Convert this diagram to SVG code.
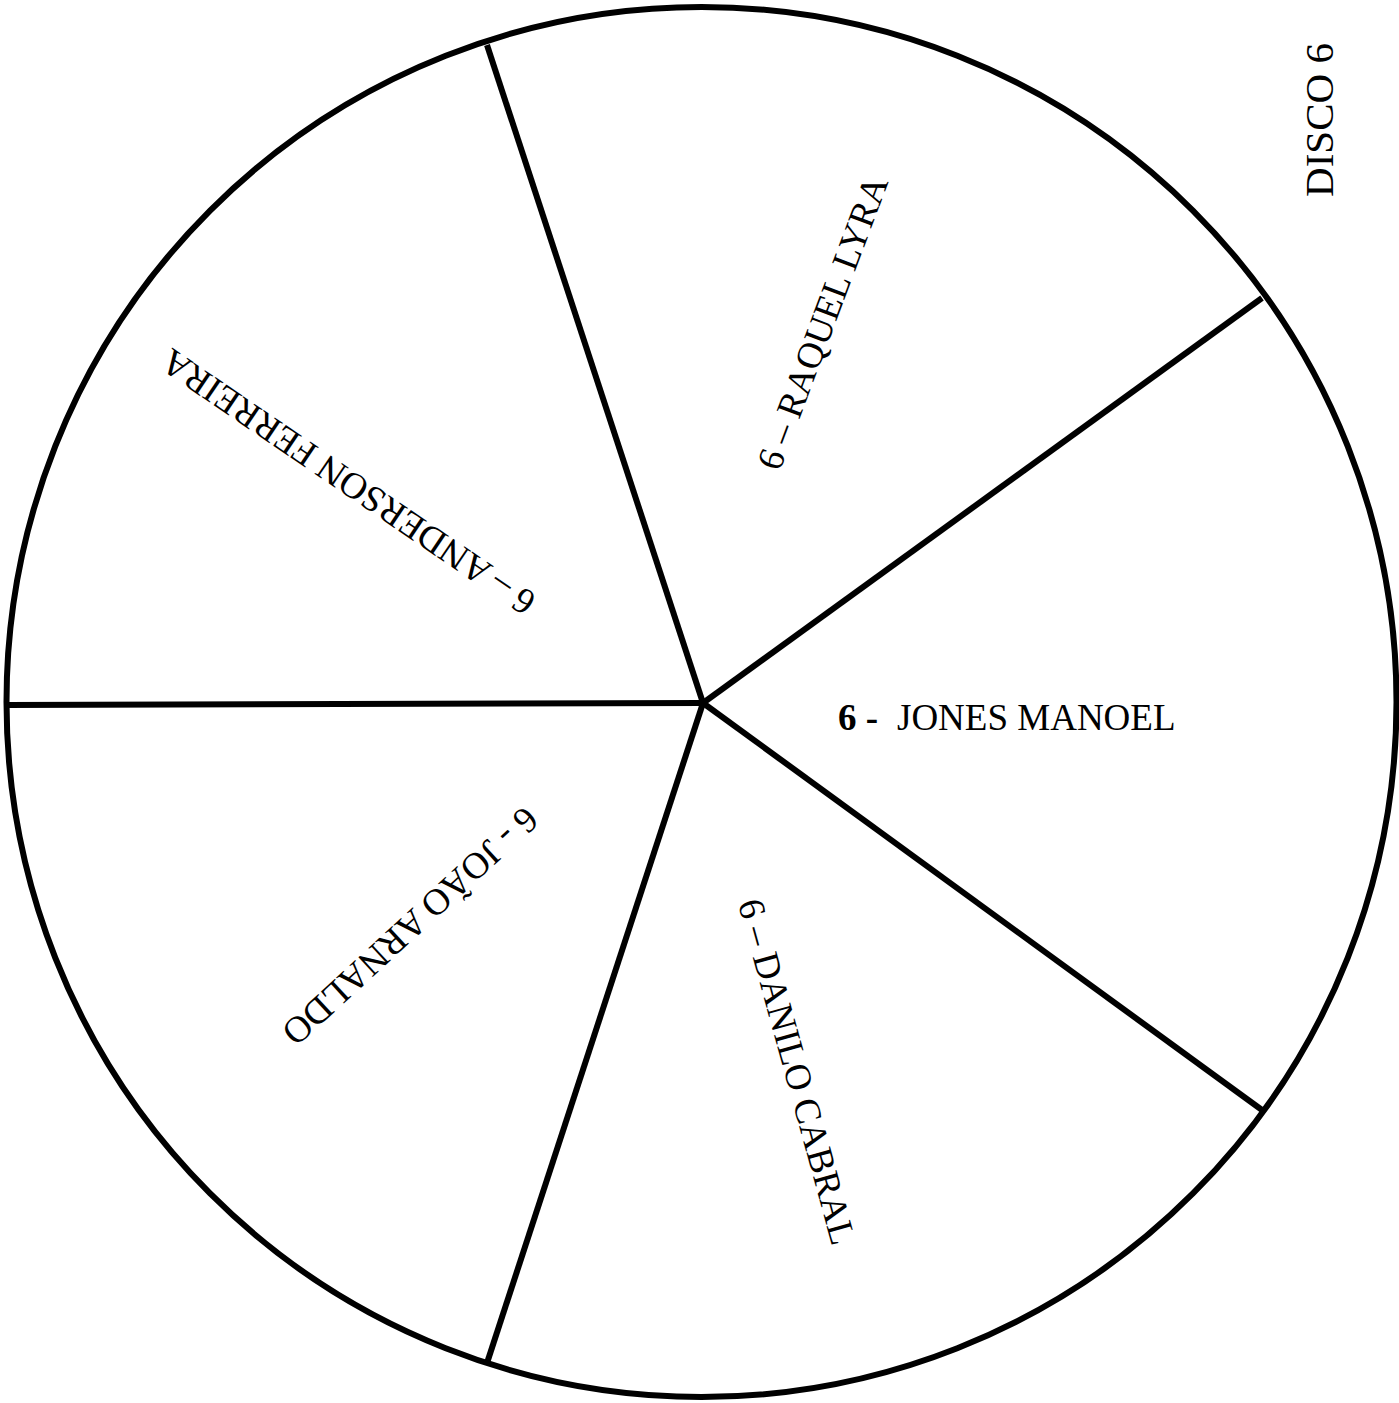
<svg xmlns="http://www.w3.org/2000/svg" width="1399" height="1403" viewBox="0 0 1399 1403">
<style>
.ln{stroke:#000;stroke-width:6;fill:none;stroke-linecap:butt}
.t{font-family:"Liberation Serif","Times New Roman",serif;font-size:37px;fill:#000}
</style>
<rect width="1399" height="1403" fill="#fff"/>
<g id="disc">
<circle class="ln" cx="701.5" cy="702" r="695"/>
</g>
<g id="connectors">
<line class="ln" x1="703" y1="703" x2="487" y2="45"/>
<line class="ln" x1="703" y1="703" x2="1262" y2="298"/>
<line class="ln" x1="703" y1="703" x2="1262" y2="1110"/>
<line class="ln" x1="703" y1="703" x2="487" y2="1363"/>
<line class="ln" x1="703" y1="703" x2="7" y2="705"/>
</g>
<g id="title">
<text class="t" style="font-size:41px" text-anchor="middle" transform="translate(1333,120) rotate(-90)">DISCO 6</text>
</g>
<g id="jones">
<text class="t" x="838" y="730"><tspan font-weight="bold">6 - </tspan><tspan x="897">JONES MANOEL</tspan></text>
</g>
<g id="raquel">
<text class="t" text-anchor="middle" transform="translate(834,327) rotate(-69.4)">6 – RAQUEL LYRA</text>
</g>
<g id="anderson">
<text class="t" text-anchor="middle" transform="translate(355,472) rotate(-145.8)">6 – ANDERSON FERREIRA</text>
</g>
<g id="joao">
<text class="t" text-anchor="middle" transform="translate(402,917) rotate(137.4)">6 - JOÃO ARNALDO</text>
</g>
<g id="danilo">
<text class="t" text-anchor="middle" transform="translate(785,1075) rotate(74.6)">6 – DANILO CABRAL</text>
</g>
</svg>
